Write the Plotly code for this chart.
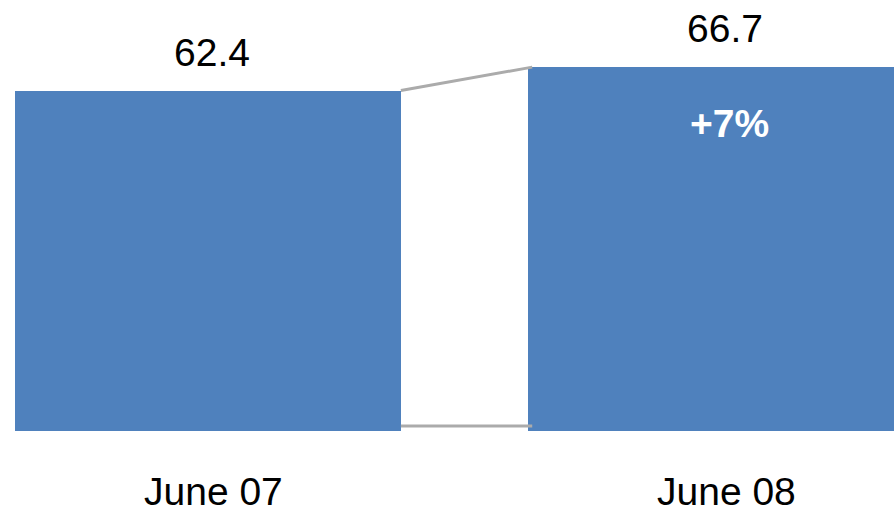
import plotly.graph_objects as go

categories = ["June 07", "June 08"]
values = [62.4, 66.7]
value_labels = ["62.4", "66.7"]
change_label = "+7%"

BLUE = "#4F81BD"
GRAY = "#ABABAB"
FONT = "Liberation Sans, Arial, sans-serif"
FS = 39
FS_CAT = 39

xpos = list(range(len(categories)))
W = 0.752

fig = go.Figure()
fig.add_trace(go.Bar(x=xpos, y=values, width=W, marker=dict(color=BLUE, line=dict(width=0)),
                     hoverinfo="skip", showlegend=False))

# connector lines between the bars
x_a = xpos[0] + W / 2
x_b = xpos[1] - W / 2 + 0.008
base_off = 0.9
fig.add_trace(go.Scatter(x=[x_a, x_b], y=[values[0], values[1]], mode="lines",
                         line=dict(color=GRAY, width=3), hoverinfo="skip", showlegend=False,
                         cliponaxis=False))
fig.add_trace(go.Scatter(x=[x_a, x_b], y=[base_off, base_off], mode="lines",
                         line=dict(color=GRAY, width=3), hoverinfo="skip", showlegend=False,
                         cliponaxis=False))

for xi, v, t in zip(xpos, values, value_labels):
    fig.add_annotation(x=xi, y=v, text=t, showarrow=False, yanchor="bottom",
                       xshift=4, yshift=15,
                       font=dict(family=FONT, size=FS, color="black"))

fig.add_annotation(x=xpos[1], y=values[1], text="<b>" + change_label + "</b>", showarrow=False,
                   yanchor="top", xshift=8, yshift=-33,
                   font=dict(family=FONT, size=FS, color="white"))

for xi, c in zip(xpos, categories):
    fig.add_annotation(x=xi, xref="x", y=0, yref="paper", text=c, showarrow=False,
                       yanchor="middle", xshift=5, yshift=-60, height=40,
                       font=dict(family=FONT, size=FS_CAT, color="black"))

fig.update_layout(
    width=894, height=514,
    margin=dict(l=0, r=0, t=0, b=83, autoexpand=False),
    plot_bgcolor="white", paper_bgcolor="white",
    xaxis=dict(range=[-208 / 513, 686 / 513], showticklabels=False, automargin=False,
               showgrid=False, zeroline=False, showline=False, ticks=""),
    yaxis=dict(range=[0, 79], visible=False, showgrid=False, zeroline=False, automargin=False),
    bargap=0,
)

fig.write_html("out.html")
